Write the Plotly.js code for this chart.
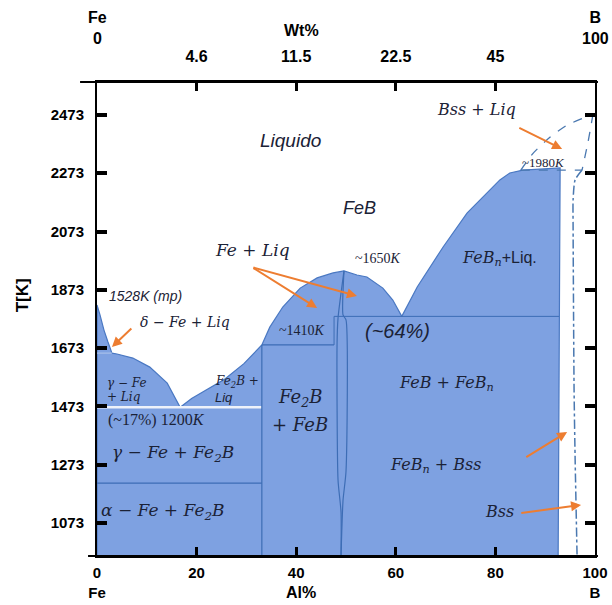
<!DOCTYPE html>
<html>
<head>
<meta charset="utf-8">
<script src="https://cdn.plot.ly/plotly-3.0.1.min.js"></script>
<style>html,body{margin:0;padding:0;background:#fff;}#chart{width:612px;height:605px;}</style>
</head>
<body>
<div id="chart"></div>
<script>
// ---- data: composition (at.% B) and temperature (K) ----
const deltaLiqX = [0, 0.6, 1.4, 2.2, 3.0];
const deltaLiqT = [1821, 1787, 1735, 1694, 1656];
const gammaLiqX = [3.0, 4.0, 7.2, 10.6, 14.1, 16.7];
const gammaLiqT = [1656, 1653, 1639, 1608, 1553, 1470];
const fe2bLiqX = [16.7, 19.0, 22.0, 25.5, 29.5, 33.1];
const fe2bLiqT = [1470, 1500, 1530, 1565, 1620, 1684];
const febLiqX = [33.1, 34.7, 37.3, 40.8, 44.2, 47.4, 49.6, 52.2, 54.2, 57.4, 59.4, 61.2];
const febLiqT = [1684, 1745, 1814, 1879, 1914, 1931, 1938, 1924, 1917, 1879, 1838, 1782];
const febnLiqX = [61.2, 64.3, 69.5, 74.3, 80.9, 82.9, 85.5, 93.0];
const febnLiqT = [1782, 1883, 2020, 2136, 2250, 2274, 2284, 2291];
const febnEdgeX = [93.0, 92.6];
const febnEdgeT = [2291, 960];
const tMin = 960, tMax = 2586;

// interior phase boundaries
const eutecticX = [0, 33.1], eutecticT = [1470, 1470];
const alphaGammaX = [0, 33.1], alphaGammaT = [1210, 1210];
const deltaBaseX = [0, 3.0], deltaBaseT = [1656, 1656];
const fe2bLineX = [33.1, 33.1], fe2bLineT = [1684, 960];
const peritecticX = [33.1, 47.6], peritecticT = [1684, 1684];
const febLeftX = [49.6, 48.4, 48.2, 48.4, 49.0, 49.0];
const febLeftT = [1938, 1776, 1684, 1221, 1111, 960];
const febRightX = [49.6, 49.4, 50.0, 50.0, 49.4, 49.0];
const febRightT = [1938, 1787, 1770, 1250, 1150, 960];
const febStepX = [47.6, 47.6], febStepT = [1782, 1684];
const eut64X = [47.6, 92.8], eut64T = [1782, 1782];

// boron-rich side (dashed)
const bssLiqX = [85.1, 87.6, 91.0, 94.4, 97.6, 99.6];
const bssLiqT = [2284, 2342, 2397, 2438, 2462, 2476];
const bssSolX = [99.6, 98.6, 97.4];
const bssSolT = [2476, 2380, 2284];
const bssPeriX = [85.1, 97.4], bssPeriT = [2284, 2284];
const bssSolvusX = [97.4, 96.0, 95.6, 95.6, 95.8, 96.0, 96.4];
const bssSolvusT = [2284, 2250, 2181, 2095, 1529, 1303, 960];

// axis ticks
const tTicks = [1073, 1273, 1473, 1673, 1873, 2073, 2273, 2473];
const atTicks = [0, 20, 40, 60, 80, 100];
const atTickText = ['0<br>Fe', '20', '40', '60', '80', '100<br>B'];
const wtTicks = [20, 40, 60, 80];
const wtTickText = ['4.6', '11.5', '22.5', '45'];

// ---- build ----
const fillCol = '#7ea1e1';
const edgeCol = '#4a78c2';
const lineCol = '#3d6db5';
const txtCol = '#1b2236';
const orange = '#ed7d31';

// solid region outline (liquidus from Fe to FeBn, then down the right edge)
const solidX = [0].concat(deltaLiqX, gammaLiqX, fe2bLiqX, febLiqX, febnLiqX, febnEdgeX, [0]);
const solidT = [tMin].concat(deltaLiqT, gammaLiqT, fe2bLiqT, febLiqT, febnLiqT, febnEdgeT, [tMin]);

function ln(x, y, color, width, dash) {
  return {type:'scatter', mode:'lines', x:x, y:y, hoverinfo:'skip',
    line:{color:color, width:width, dash:dash || 'solid', shape:'spline', smoothing:0.6}};
}

const traces = [
  {type:'scatter', mode:'lines', x:solidX, y:solidT, fill:'toself', fillcolor:fillCol,
   line:{color:edgeCol, width:1.2}, hoverinfo:'skip'},
  ln(eutecticX, eutecticT, '#eef2fa', 2.5),
  ln(alphaGammaX, alphaGammaT, lineCol, 1.2),
  ln(deltaBaseX, deltaBaseT, '#a9c0ea', 1.2),
  ln(fe2bLineX, fe2bLineT, lineCol, 1.2),
  ln(peritecticX, peritecticT, lineCol, 1.2),
  ln(febLeftX, febLeftT, lineCol, 1.2),
  ln(febRightX, febRightT, lineCol, 1.2),
  ln(febStepX, febStepT, lineCol, 1.0),
  ln(eut64X, eut64T, lineCol, 1.0),
  ln(bssLiqX, bssLiqT, '#4a78b0', 1.3, 'dash'),
  ln(bssSolX, bssSolT, '#4a78b0', 1.3, 'dash'),
  ln(bssPeriX, bssPeriT, '#4a78b0', 1.3, 'dash'),
  ln(bssSolvusX, bssSolvusT, '#4a78b0', 1.5, 'dashdot'),
  {type:'scatter', mode:'markers', x:[0], y:[tMin], xaxis:'x2', marker:{opacity:0}, hoverinfo:'skip'}
];

const serif = (size) => ({family:'DejaVu Serif, Liberation Serif, serif', style:'italic', size:size, color:txtCol});
const serifUp = (size) => ({family:'Liberation Serif, DejaVu Serif, serif', size:size, color:txtCol});
const sans = (size) => ({family:'Liberation Sans, Arial, sans-serif', style:'italic', size:size, color:txtCol});

function lab(x, y, text, font, xanchor) {
  return {x:x, y:y, xref:'x', yref:'y', text:text, showarrow:false, font:font, xanchor:xanchor || 'center', yanchor:'middle'};
}
function arrow(x0, y0, x1, y1) {
  return {x:x1, y:y1, ax:x0, ay:y0, xref:'x', yref:'y', axref:'x', ayref:'y', text:'',
    showarrow:true, arrowcolor:orange, arrowwidth:2, arrowhead:2, arrowsize:1};
}

const annotations = [
  lab(38.8, 2387, 'Liquido', sans(19)),
  lab(52.8, 2154, 'FeB', sans(18)),
  lab(31.3, 2010, 'Fe + Liq', serif(17)),
  lab(56.4, 1982, '~1650<i>K</i>', serifUp(14)),
  lab(2.0, 1852, '1528K (mp)', sans(14), 'left'),
  lab(17.7, 1763, 'δ − Fe + Liq', serif(14)),
  lab(41.2, 1735, '~1410<i>K</i>', serifUp(14)),
  lab(60.4, 1732, '(~64%)', sans(20)),
  lab(80.9, 1982, '<i>FeB<sub>n</sub></i><span style="font-family:Liberation Sans">+Liq.</span>', {family:'DejaVu Serif', size:16, color:txtCol}),
  lab(76.3, 2490, 'Bss + Liq', serif(16)),
  lab(89.6, 2311, '~1980<i>K</i>', serifUp(13)),
  lab(1.6, 1553, 'γ − Fe', serif(12), 'left'),
  lab(1.6, 1505, '+ Liq', serif(12), 'left'),
  lab(23.3, 1557, 'Fe<sub>2</sub>B +', serif(12), 'left'),
  lab(23.3, 1505, '<span style="font-family:Liberation Sans">Liq</span>', serif(13), 'left'),
  lab(12.0, 1426, '(~17%) 1200<i>K</i>', serifUp(16)),
  lab(15.3, 1313, 'γ − Fe + Fe<sub>2</sub>B', serif(17)),
  lab(40.8, 1502, 'Fe<sub>2</sub>B', serif(18)),
  lab(40.8, 1412, '+ FeB', serif(18)),
  lab(70.1, 1553, 'FeB + FeB<sub>n</sub>', serif(16)),
  lab(67.9, 1272, 'FeB<sub>n</sub> + Bss', serif(16)),
  lab(13.3, 1111, 'α − Fe + Fe<sub>2</sub>B', serif(17)),
  lab(80.9, 1111, 'Bss', serif(16)),
  arrow(7.2, 1745, 3.0, 1677),
  arrow(31.1, 1951, 44.2, 1811),
  arrow(31.1, 1951, 52.2, 1852),
  arrow(84.5, 2431, 93.4, 2356),
  arrow(85.9, 1296, 94.4, 1385),
  arrow(84.9, 1107, 97.2, 1135),
  // axis captions
  {xref:'paper', yref:'paper', x:0, y:1, yshift:54, text:'<b>Fe</b><br><b>0</b>', showarrow:false,
   font:{family:'Liberation Sans, Arial', size:16, color:'#000'}, xanchor:'center', yanchor:'middle'},
  {xref:'paper', yref:'paper', x:1, y:1, yshift:54, text:'<b>B</b><br><b>100</b>', showarrow:false,
   font:{family:'Liberation Sans, Arial', size:16, color:'#000'}, xanchor:'center', yanchor:'middle'},
  {xref:'paper', yref:'paper', x:0.41, y:1, yshift:52, text:'<b>Wt%</b>', showarrow:false,
   font:{family:'Liberation Sans, Arial', size:16, color:'#000'}, xanchor:'center', yanchor:'middle'},
  {xref:'paper', yref:'paper', x:0.41, y:0, yshift:-36, text:'<b>Al%</b>', showarrow:false,
   font:{family:'Liberation Sans, Arial', size:16, color:'#000'}, xanchor:'center', yanchor:'middle'},
  {xref:'paper', yref:'paper', x:0, xshift:-75, y:0.55, text:'<b>T[K]</b>', textangle:-90, showarrow:false,
   font:{family:'Liberation Sans, Arial', size:17, color:'#000'}, xanchor:'center', yanchor:'middle'}
];

const tickFont = {family:'Liberation Sans, Arial', size:15, color:'#000', weight:'bold'};
const layout = {
  width:612, height:605,
  margin:{l:97, r:17, t:82, b:49},
  paper_bgcolor:'#fff', plot_bgcolor:'#fff',
  showlegend:false,
  xaxis:{range:[0,100], tickvals:atTicks, ticktext:atTickText, ticks:'inside', ticklen:9, tickwidth:3,
    tickcolor:'#000', showline:true, linewidth:2, linecolor:'#000', showgrid:false, zeroline:false,
    tickfont:tickFont, ticklabelstandoff:2},
  xaxis2:{overlaying:'x', side:'top', anchor:'y', range:[0,100], tickvals:wtTicks, ticktext:wtTickText,
    ticks:'inside', ticklen:9, tickwidth:3, tickcolor:'#000', showline:true, linewidth:2, linecolor:'#000',
    showgrid:false, zeroline:false, tickfont:{family:'Liberation Sans, Arial', size:16, color:'#000', weight:'bold'},
    ticklabelstandoff:12},
  yaxis:{range:[tMin,tMax], tickvals:tTicks, ticks:'inside', ticklen:10, tickwidth:4, tickcolor:'#000',
    showline:true, linewidth:2, linecolor:'#000', mirror:'ticks', showgrid:false, zeroline:false,
    tickfont:tickFont, ticklabelstandoff:8},
  annotations:annotations,
  shapes:[
    {type:'line', xref:'paper', yref:'paper', x0:-0.018, x1:1.006, y0:0, y1:0, line:{color:'#000', width:2}},
    {type:'line', xref:'paper', yref:'paper', x0:-0.034, x1:1.006, y0:1, y1:1, line:{color:'#000', width:2}}
  ]
};

Plotly.newPlot('chart', traces, layout, {displayModeBar:false, staticPlot:true});
</script>
</body>
</html>
